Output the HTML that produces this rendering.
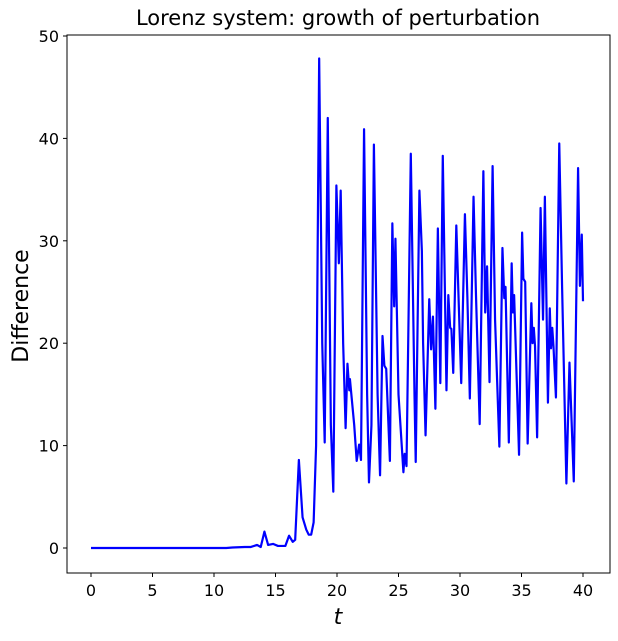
<!DOCTYPE html>
<html><head><meta charset="utf-8"><style>
body{margin:0;background:#fff;}
svg text{font-family:"DejaVu Sans","Liberation Sans",sans-serif;fill:#000;}
</style></head><body>
<svg id="chart" width="618" height="636" viewBox="0 0 618 636">
<text x="338" y="25" font-size="21" text-anchor="middle">Lorenz system: growth of perturbation</text>
<g id="xticks"></g>
<g id="yticks"></g>
<path id="line" fill="none" stroke="#0000ff" stroke-width="2.2" stroke-linejoin="round"/>
<rect x="67" y="35" width="543" height="538" fill="none" stroke="#000" stroke-width="1"/>
<text x="338" y="624" font-size="22" font-style="italic" text-anchor="middle">t</text>
<text transform="translate(28,306) rotate(-90)" font-size="22" text-anchor="middle">Difference</text>
</svg>
<script>
const xTicks=[0,5,10,15,20,25,30,35,40];
const yTicks=[0,10,20,30,40,50];
const tVals=[0,11,11.5,12.5,13,13.5,13.8,14.1,14.4,14.8,15.2,15.8,16.1,16.4,16.6,16.9,17.2,17.5,17.7,17.9,18.1,18.3,18.55,18.8,19.0,19.25,19.5,19.7,19.95,20.15,20.3,20.5,20.7,20.85,21.0,21.05,21.4,21.6,21.8,21.95,22.2,22.45,22.6,22.8,23.0,23.3,23.5,23.7,23.85,24.0,24.3,24.5,24.65,24.75,25.0,25.4,25.5,25.65,26.0,26.3,26.4,26.7,26.9,27.0,27.2,27.5,27.65,27.8,28.0,28.2,28.4,28.6,28.9,29.05,29.2,29.3,29.45,29.7,30.1,30.4,30.6,30.8,31.1,31.3,31.6,31.9,32.05,32.2,32.4,32.65,32.85,33.2,33.45,33.6,33.7,33.97,34.2,34.3,34.4,34.8,35.05,35.15,35.3,35.5,35.8,35.9,36.0,36.1,36.27,36.55,36.75,36.9,37.15,37.3,37.4,37.5,37.6,37.8,38.07,38.3,38.65,38.9,39.25,39.6,39.75,39.9,40];
const diffVals=[0,0,0.05,0.1,0.1,0.3,0.1,1.6,0.3,0.4,0.2,0.2,1.2,0.6,0.8,8.6,3,1.8,1.3,1.3,2.5,10,47.8,20,10.3,42,12,5.5,35.4,27.8,34.9,20,11.7,18,15.4,16.5,12,8.5,10.1,8.6,40.9,15,6.4,12,39.4,15,7.1,20.7,17.8,17.5,8.5,31.7,23.6,30.2,15,7.4,9.2,8,38.5,15,8.4,34.9,29,20,11,24.3,19.4,22.6,13.6,31.2,16.1,38.3,15.4,24.7,21.5,21.4,17.1,31.5,16.1,32.6,24.5,14.6,34.3,24.7,12.1,36.8,23,27.5,16.2,37.3,22.3,9.9,29.3,24.4,25.5,10.3,27.8,23,24.7,9.1,30.8,26.3,26,10.2,23.9,20,21.5,19.7,10.8,33.2,22.3,34.3,14.2,23.4,19.5,21.5,19.7,14.7,39.5,25.5,6.3,18.1,6.5,37.1,25.6,30.6,24.1];
const NS='http://www.w3.org/2000/svg';
function xs(t){return 91+t*12.3;}
function ys(v){return 548-v*10.24;}
const gx=document.getElementById('xticks');
xTicks.forEach(t=>{
  const l=document.createElementNS(NS,'line');
  l.setAttribute('x1',xs(t));l.setAttribute('x2',xs(t));l.setAttribute('y1',573);l.setAttribute('y2',577);l.setAttribute('stroke','#000');
  
  
  gx.appendChild(l);
  const tx=document.createElementNS(NS,'text');
  tx.setAttribute('x',xs(t));tx.setAttribute('y',596);tx.setAttribute('font-size','16');tx.setAttribute('text-anchor','middle');
  tx.textContent=t;
  
  
  gx.appendChild(tx);
});
const gy=document.getElementById('yticks');
yTicks.forEach(v=>{
  const l=document.createElementNS(NS,'line');
  l.setAttribute('x1',63);l.setAttribute('x2',67);l.setAttribute('y1',ys(v));l.setAttribute('y2',ys(v));l.setAttribute('stroke','#000');
  
  
  gy.appendChild(l);
  const tx=document.createElementNS(NS,'text');
  tx.setAttribute('x',59);tx.setAttribute('y',ys(v)+6);tx.setAttribute('font-size','16');tx.setAttribute('text-anchor','end');
  tx.textContent=v;
  
  
  gy.appendChild(tx);
});
let d='';
tVals.forEach((t,i)=>{d+=(i?'L':'M')+xs(t).toFixed(2)+','+ys(diffVals[i]).toFixed(2);});
document.getElementById('line').setAttribute('d',d);
</script>
</body></html>
